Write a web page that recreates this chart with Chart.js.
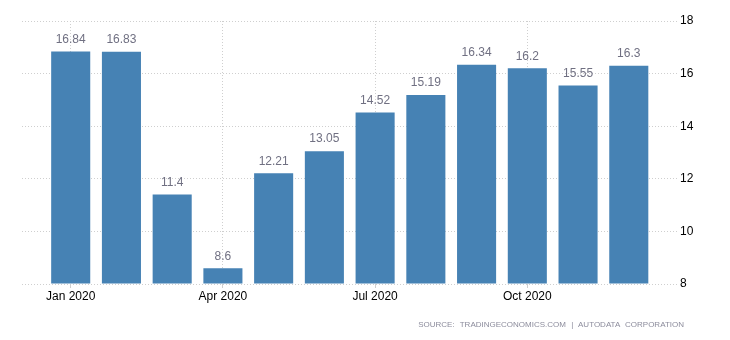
<!DOCTYPE html>
<html>
<head>
<meta charset="utf-8">
<script src="https://cdn.jsdelivr.net/npm/chart.js@4/dist/chart.umd.min.js"></script>
<style>
  html, body { margin: 0; padding: 0; background: #fff; }
  #wrap { position: relative; width: 730px; height: 340px; }
  #source {
    position: absolute; right: 46px; top: 320px;
    font: 8px "Liberation Sans", Arial, sans-serif;
    letter-spacing: 0; word-spacing: 3px;
    color: #8c8c9c; white-space: nowrap;
  }
</style>
</head>
<body>
<div id="wrap">
  <canvas id="salesChart" width="730" height="340"></canvas>
  <div id="source">SOURCE: TRADINGECONOMICS.COM | AUTODATA CORPORATION</div>
</div>
<script>
// Monthly values for 2020
const months = ['Jan 2020', 'Feb 2020', 'Mar 2020', 'Apr 2020', 'May 2020', 'Jun 2020',
                'Jul 2020', 'Aug 2020', 'Sep 2020', 'Oct 2020', 'Nov 2020', 'Dec 2020'];
const values = [16.84, 16.83, 11.4, 8.6, 12.21, 13.05, 14.52, 15.19, 16.34, 16.2, 15.55, 16.3];
const labelMonths = [0, 3, 6, 9];
const yTicks = [8, 10, 12, 14, 16, 18];

const fontFamily = '"Liberation Sans", Arial, sans-serif';

// Writes the value above each bar
const valueLabels = {
    id: 'valueLabels',
    afterDatasetsDraw(chart) {
        const ctx = chart.ctx;
        const meta = chart.getDatasetMeta(0);
        ctx.save();
        ctx.font = '12px ' + fontFamily;
        ctx.fillStyle = '#707082';
        ctx.textAlign = 'center';
        ctx.textBaseline = 'middle';
        meta.data.forEach((bar, i) => {
            ctx.fillText(String(values[i]), bar.x, bar.y - 12);
        });
        ctx.restore();
    }
};

const ctx = document.getElementById('salesChart').getContext('2d');
new Chart(ctx, {
    type: 'bar',
    data: {
        datasets: [{
            data: values.map((v, i) => ({ x: i, y: v })),
            backgroundColor: '#4682b4',
            borderWidth: 0,
            base: 8,
            categoryPercentage: 1,
            barPercentage: 0.77
        }]
    },
    options: {
        responsive: false,
        animation: false,
        events: [],
        layout: { padding: { left: 22, top: 21, right: 0, bottom: 0 } },
        plugins: {
            legend: { display: false },
            tooltip: { enabled: false }
        },
        scales: {
            x: {
                type: 'linear',
                min: -0.96,
                max: 11.97,
                offset: false,
                afterBuildTicks: scale => {
                    scale.ticks = labelMonths.map(v => ({ value: v }));
                },
                afterFit: scale => { scale.height = 56; },
                grid: {
                    offset: false,
                    color: '#cfcfcf',
                    tickColor: '#cfcfcf',
                    tickLength: 4
                },
                border: { display: false, dash: [1, 2] },
                ticks: {
                    autoSkip: false,
                    maxRotation: 0,
                    padding: 1,
                    color: '#000',
                    font: { family: fontFamily, size: 12 },
                    callback: value => months[value]
                }
            },
            y: {
                position: 'right',
                min: 8,
                max: 18,
                afterBuildTicks: scale => {
                    scale.ticks = yTicks.map(v => ({ value: v }));
                },
                afterFit: scale => { scale.width = 52; },
                grid: { color: '#cfcfcf', drawTicks: false },
                border: { display: false, dash: [1, 2] },
                ticks: {
                    padding: 2,
                    color: '#000',
                    font: { family: fontFamily, size: 12 }
                }
            }
        }
    },
    plugins: [valueLabels]
});
</script>
</body>
</html>
